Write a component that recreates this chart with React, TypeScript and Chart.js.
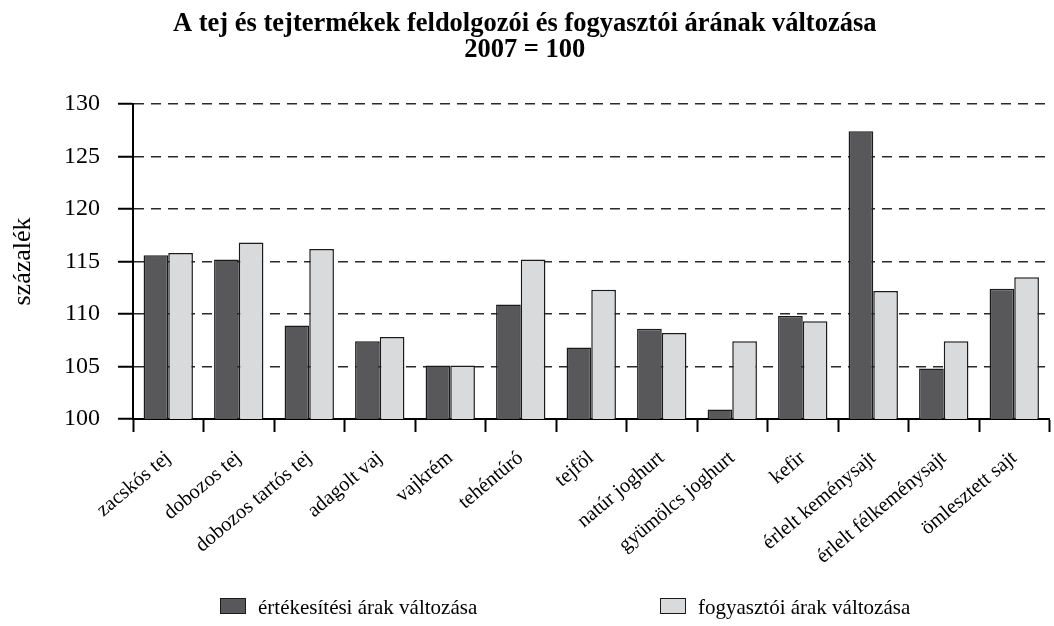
import React, { useEffect, useRef } from "react";
import { Chart, registerables } from "chart.js";

Chart.register(...registerables);

const titleLines = ["A tej és tejtermékek feldolgozói és fogyasztói árának változása", "2007 = 100"];
const yAxisTitle = "százalék";
const categories = [
  "zacskós tej",
  "dobozos tej",
  "dobozos tartós tej",
  "adagolt vaj",
  "vajkrém",
  "tehéntúró",
  "tejföl",
  "natúr joghurt",
  "gyümölcs joghurt",
  "kefir",
  "érlelt keménysajt",
  "érlelt félkeménysajt",
  "ömlesztett sajt",
];
const seriesNames = ["értékesítési árak változása", "fogyasztói árak változása"];
const salesValues = [115.6, 115.2, 108.9, 107.4, 105.1, 110.9, 106.8, 108.6, 100.9, 109.8, 127.4, 104.8, 112.4];
const consumerValues = [115.8, 116.8, 116.2, 107.8, 105.1, 115.2, 112.3, 108.2, 107.4, 109.3, 112.2, 107.4, 113.5];
const yMin = 100;
const yMax = 130;
const yStep = 5;

const DARK = "#58585a";
const LIGHT = "#d9dadc";
const EDGE = "#1a1a1a";
const FONT = "'Liberation Serif', 'Times New Roman', serif";

export default function App() {
  const canvasRef = useRef<HTMLCanvasElement | null>(null);

  useEffect(() => {
    const canvas = canvasRef.current;
    if (!canvas) return;
    const chart = new Chart(canvas, {
      type: "bar",
      data: {
        labels: categories,
        datasets: [
          {
            label: seriesNames[0],
            data: salesValues,
            backgroundColor: DARK,
            borderColor: EDGE,
            borderWidth: 1.5,
            categoryPercentage: 0.7,
            barPercentage: 1.0,
          },
          {
            label: seriesNames[1],
            data: consumerValues,
            backgroundColor: LIGHT,
            borderColor: EDGE,
            borderWidth: 1.5,
            categoryPercentage: 0.7,
            barPercentage: 1.0,
          },
        ],
      },
      options: {
        responsive: false,
        animation: false,
        layout: { padding: { left: 0, right: 4.5, top: 0, bottom: 0 } },
        plugins: {
          legend: { display: false },
          tooltip: { enabled: false },
          title: {
            display: true,
            text: titleLines,
            color: "#000",
            font: { family: FONT, size: 26.5, weight: "bold", lineHeight: 26 / 26.5 },
            padding: { top: 11, bottom: 41 },
          },
        },
        scales: {
          x: {
            offset: true,
            grid: {
              display: true,
              offset: true,
              drawOnChartArea: false,
              drawTicks: true,
              tickLength: 13,
              tickColor: "#000",
              tickWidth: 2,
            },
            border: { display: true, color: "#000", width: 2 },
            ticks: {
              color: "#000",
              font: { family: FONT, size: 20.5 },
              minRotation: 40,
              maxRotation: 40,
              autoSkip: false,
              padding: 14,
            },
            afterFit: (scale: any) => {
              scale.height = 207;
            },
          },
          y: {
            min: yMin,
            max: yMax,
            grid: {
              display: true,
              drawOnChartArea: true,
              drawTicks: true,
              color: "#2a2a2a",
              lineWidth: 1.5,
              tickLength: 15,
              tickColor: "#000",
              tickWidth: 2,
              tickBorderDash: [],
            },
            border: { display: true, color: "#000", width: 2, dash: [10, 7] },
            ticks: {
              stepSize: yStep,
              color: "#000",
              font: { family: FONT, size: 24 },
              padding: 18,
            },
            title: {
              display: true,
              text: yAxisTitle,
              color: "#000",
              font: { family: FONT, size: 26, lineHeight: 1.0 },
              padding: { top: 10, bottom: 0 },
            },
            afterFit: (scale: any) => {
              scale.width = 133;
            },
          },
        },
      },
    });
    return () => chart.destroy();
  }, []);

  const legendText: React.CSSProperties = {
    position: "absolute",
    top: 595,
    fontFamily: FONT,
    fontSize: 21,
    lineHeight: "24px",
    color: "#000",
    whiteSpace: "nowrap",
  };
  const box = (bg: string, left: number): React.CSSProperties => ({
    position: "absolute",
    left,
    top: 598,
    width: 26,
    height: 16,
    boxSizing: "border-box",
    background: bg,
    border: `1.5px solid ${EDGE}`,
  });

  return (
    <div style={{ position: "absolute", left: 0, top: 0, width: 1054, height: 626, background: "#fff" }}>
      <canvas ref={canvasRef} width={1054} height={626} style={{ display: "block" }} />
      <div style={box(DARK, 220)} />
      <span style={{ ...legendText, left: 258 }}>{seriesNames[0]}</span>
      <div style={box(LIGHT, 660)} />
      <span style={{ ...legendText, left: 698 }}>{seriesNames[1]}</span>
    </div>
  );
}
